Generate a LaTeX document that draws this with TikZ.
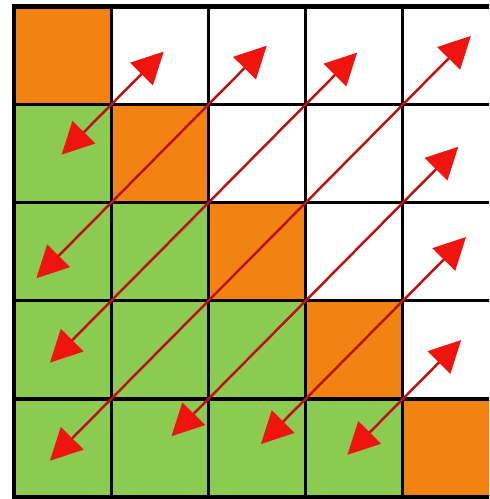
\documentclass[tikz,border=0pt]{standalone}
\usetikzlibrary{arrows.meta}

\definecolor{cellorange}{HTML}{F28312}
\definecolor{cellgreen}{HTML}{8CCB52}
\definecolor{tipred}{HTML}{F0140F}

\tikzset{
    twoway/.style={{Triangle[length=9pt,width=9pt,color=tipred]}-{Triangle[length=9pt,width=9pt,color=tipred]},
        draw=tipred!80!black, line width=0.7pt}
}

\begin{document}
\begin{tikzpicture}[x=0.972cm,y=-0.981cm]
    \clip (-0.144,-0.066) rectangle (4.887,5.02);

    % Cells: diagonal orange, below it green
    \foreach \r in {0,...,4}
        \foreach \c in {0,...,4} {
            \ifnum\r=\c
                \fill[cellorange] (\c-0.008,\r-0.008) rectangle ++(1.016,1.016);
            \else\ifnum\r>\c
                \fill[cellgreen] (\c-0.008,\r-0.008) rectangle ++(1.016,1.016);
            \fi\fi
        }

    % Grid
    \foreach \i in {1,...,4} {
        \draw[line width=0.9pt] (\i,0) -- (\i,5);
        \draw[line width=0.9pt] (0,\i) -- (5,\i);
    }
    \draw[line width=1.4pt] (0,0) rectangle (5,5);

    % Arrows along the lines x+y=k
    \foreach \k/\a/\b in {2/0.49/1.54, 3/0.23/2.6, 4/0.37/3.53, 5/0.37/4.7,
                          6/1.62/4.57, 7/2.54/4.65, 8/3.43/4.6}
        \draw[twoway] (\a,\k-\a) -- (\b,\k-\b);
\end{tikzpicture}
\end{document}
